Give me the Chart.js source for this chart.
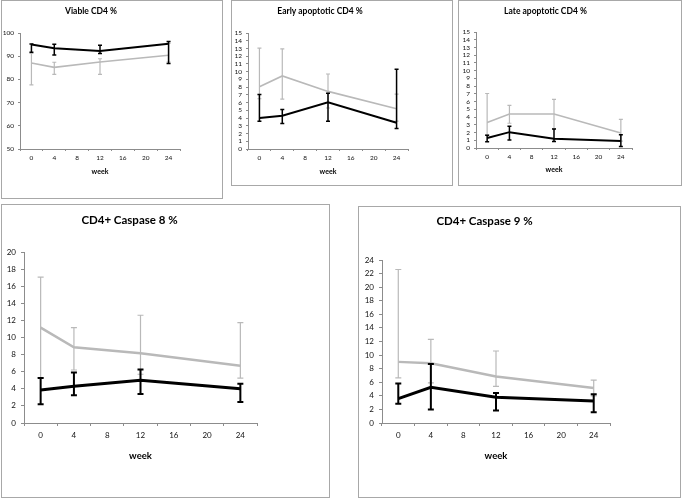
<!DOCTYPE html>
<html>
<head>
<meta charset="utf-8">
<script src="https://cdn.jsdelivr.net/npm/chart.js@4/dist/chart.umd.min.js"></script>
<style>
  body { margin: 0; background: #fff; width: 683px; height: 498px; position: relative; overflow: hidden; }
  .panel { position: absolute; border: 1px solid #a8a8a8; background: #fff; }
  .panel canvas { display: block; }
</style>
</head>
<body>
<div class="panel" id="p1"><canvas id="c1"></canvas></div>
<div class="panel" id="p2"><canvas id="c2"></canvas></div>
<div class="panel" id="p3"><canvas id="c3"></canvas></div>
<div class="panel" id="p4"><canvas id="c4"></canvas></div>
<div class="panel" id="p5"><canvas id="c5"></canvas></div>
<script>
const weekLabels = ['0', '4', '8', '12', '16', '20', '24'];
const weeks = ['0', '4', '12', '24'];

// Viable CD4 %
const viableBlack = [95.0, 93.4, 92.2, 95.4];
const viableBlackHi = [95.3, 95.1, 94.7, 96.3];
const viableBlackLo = [91.7, 90.5, 91.2, 86.9];
const viableGrey = [87.1, 85.2, 87.5, 90.4];
const viableGreyHi = [91.2, 87.4, 88.9, 95.5];
const viableGreyLo = [77.6, 82.2, 82.2, 87.5];

// Early apoptotic CD4 %
const earlyBlack = [4.0, 4.3, 6.05, 3.4];
const earlyBlackHi = [7.05, 5.1, 7.2, 10.3];
const earlyBlackLo = [3.6, 3.3, 3.6, 2.65];
const earlyGrey = [8.05, 9.45, 7.45, 5.2];
const earlyGreyHi = [13.05, 12.95, 9.7, 7.1];
const earlyGreyLo = [6.5, 6.45, 5.3, 3.6];

// Late apoptotic CD4 %
const lateBlack = [1.3, 2.05, 1.2, 0.9];
const lateBlackHi = [1.65, 2.8, 2.45, 1.7];
const lateBlackLo = [0.8, 1.05, 0.85, 0.2];
const lateGrey = [3.3, 4.4, 4.4, 1.95];
const lateGreyHi = [7.05, 5.5, 6.3, 3.7];
const lateGreyLo = [1.7, 3.2, 2.5, 0.9];

// CD4+ Caspase 8 %
const casp8Black = [3.85, 4.3, 5.0, 4.0];
const casp8BlackHi = [5.25, 5.9, 6.25, 4.6];
const casp8BlackLo = [2.2, 3.25, 3.4, 2.45];
const casp8Grey = [11.15, 8.85, 8.15, 6.7];
const casp8GreyHi = [17.05, 11.15, 12.6, 11.75];
const casp8GreyLo = [5.3, 6.2, 5.7, 5.25];

// CD4+ Caspase 9 %
const casp9Black = [3.6, 5.25, 3.8, 3.25];
const casp9BlackHi = [5.8, 8.7, 4.4, 4.25];
const casp9BlackLo = [2.85, 2.0, 1.85, 1.6];
const casp9Grey = [9.0, 8.8, 6.85, 5.15];
const casp9GreyHi = [22.6, 12.3, 10.6, 6.3];
const casp9GreyLo = [6.65, 5.9, 5.4, 4.0];

const FONT = 'Lato, "Open Sans", sans-serif';
const AXIS = '#8c8c8c';
const GREY = '#b9b9b9';

const errorBars = {
  id: 'errorBars',
  afterDatasetDraw(chart, args) {
    const ds = chart.data.datasets[args.index];
    if (!ds.hi) return;
    const ctx = chart.ctx;
    const y = chart.scales.y;
    ctx.save();
    ctx.strokeStyle = ds.borderColor;
    ctx.lineWidth = ds.errWidth;
    args.meta.data.forEach((pt, i) => {
      const top = y.getPixelForValue(ds.hi[i]);
      const bot = y.getPixelForValue(ds.lo[i]);
      const c = ds.cap;
      ctx.beginPath();
      ctx.moveTo(pt.x, top);
      ctx.lineTo(pt.x, bot);
      ctx.moveTo(pt.x - c, top);
      ctx.lineTo(pt.x + c, top);
      ctx.moveTo(pt.x - c, bot);
      ctx.lineTo(pt.x + c, bot);
      ctx.stroke();
    });
    ctx.restore();
  }
};

function series(values, hi, lo, color, width, errWidth, cap) {
  return {
    data: values.map((v, i) => ({ x: weeks[i], y: v })),
    hi: hi,
    lo: lo,
    borderColor: color,
    borderWidth: width,
    errWidth: errWidth,
    cap: cap,
    pointRadius: 0,
    tension: 0,
    fill: false,
    clip: false
  };
}

function makePanel(n, p) {
  const [bl, bt, br, bb] = p.box;
  const W = br - bl - 1, H = bb - bt - 1;
  const ox = bl + 1, oy = bt + 1;
  const div = document.getElementById('p' + n);
  div.style.left = bl + 'px';
  div.style.top = bt + 'px';
  div.style.width = W + 'px';
  div.style.height = H + 'px';
  const canvas = document.getElementById('c' + n);
  canvas.width = W;
  canvas.height = H;

  const titleLh = p.titleSize * 1.2;
  const titleTop = p.titleY - titleLh / 2 - oy;
  const titleBottom = p.area.t - oy - titleTop - titleLh;
  const weekLh = p.weekSize * 1.2;
  const xBottom = p.weekY + weekLh / 2;
  const big = p.titleSize > 9;

  new Chart(canvas.getContext('2d'), {
    type: 'line',
    data: {
      datasets: [
        series(p.black, p.blackHi, p.blackLo, '#000000', big ? 3 : 2, big ? 2 : 1.5, big ? 3 : 2),
        series(p.grey, p.greyHi, p.greyLo, GREY, big ? 2.5 : 1.6, 1.2, big ? 3 : 2)
      ]
    },
    options: {
      responsive: false,
      animation: false,
      events: [],
      layout: {
        padding: { left: 0, top: 0, right: ox + W - p.area.r, bottom: oy + H - xBottom }
      },
      plugins: {
        legend: { display: false },
        tooltip: { enabled: false },
        title: {
          display: true,
          text: p.title,
          color: '#000',
          font: { family: FONT, size: p.titleSize, weight: 'bold' },
          padding: { top: titleTop, bottom: titleBottom }
        }
      },
      scales: {
        x: {
          type: 'category',
          labels: weekLabels,
          offset: true,
          grid: { offset: true, drawOnChartArea: false, color: AXIS, tickLength: p.tick },
          border: { color: AXIS, width: 1 },
          ticks: { color: '#111', font: { family: FONT, size: p.tickSize }, padding: p.xPad, maxRotation: 0, autoSkip: false },
          title: {
            display: true,
            text: 'week',
            color: '#000',
            font: { family: FONT, size: p.weekSize, weight: 'bold' },
            padding: 0
          },
          afterFit: s => { s.height = xBottom - p.area.b; }
        },
        y: {
          min: p.yMin,
          max: p.yMax,
          grid: { drawOnChartArea: false, color: AXIS, tickLength: p.tick },
          border: { color: AXIS, width: 1 },
          ticks: { stepSize: p.yStep, autoSkip: false, color: '#111', font: { family: FONT, size: p.tickSize }, padding: p.yPad },
          afterFit: s => { s.width = p.area.l - ox; }
        }
      }
    },
    plugins: [errorBars]
  });
}

const small = { titleSize: 8.5, tickSize: 6.5, weekSize: 7, tick: 2, xPad: 3, yPad: 4 };
const large = { titleSize: 11.5, tickSize: 8, weekSize: 9.5, tick: 3, xPad: 5, yPad: 5 };

makePanel(1, Object.assign({}, small, {
  box: [1, 0, 222, 198], area: { l: 20, t: 33, r: 180, b: 149 }, titleY: 11, weekY: 172,
  title: 'Viable CD4 %', yMin: 50, yMax: 100, yStep: 10,
  black: viableBlack, blackHi: viableBlackHi, blackLo: viableBlackLo,
  grey: viableGrey, greyHi: viableGreyHi, greyLo: viableGreyLo
}));

makePanel(2, Object.assign({}, small, {
  box: [231, 0, 452, 185], area: { l: 248, t: 33, r: 408, b: 149 }, titleY: 11, weekY: 172,
  title: 'Early apoptotic CD4 %', yMin: 0, yMax: 15, yStep: 1,
  black: earlyBlack, blackHi: earlyBlackHi, blackLo: earlyBlackLo,
  grey: earlyGrey, greyHi: earlyGreyHi, greyLo: earlyGreyLo
}));

makePanel(3, Object.assign({}, small, {
  box: [458, 0, 681, 185], area: { l: 476, t: 32, r: 632, b: 148 }, titleY: 11, weekY: 170,
  title: 'Late apoptotic CD4 %', yMin: 0, yMax: 15, yStep: 1,
  black: lateBlack, blackHi: lateBlackHi, blackLo: lateBlackLo,
  grey: lateGrey, greyHi: lateGreyHi, greyLo: lateGreyLo
}));

makePanel(4, Object.assign({}, large, {
  box: [1, 204, 329, 497], area: { l: 24, t: 252, r: 257, b: 423 }, titleY: 220, weekY: 456,
  title: 'CD4+ Caspase 8 %', yMin: 0, yMax: 20, yStep: 2,
  black: casp8Black, blackHi: casp8BlackHi, blackLo: casp8BlackLo,
  grey: casp8Grey, greyHi: casp8GreyHi, greyLo: casp8GreyLo
}));

makePanel(5, Object.assign({}, large, {
  box: [358, 206, 680, 497], area: { l: 382, t: 260, r: 610, b: 423 }, titleY: 221, weekY: 456,
  title: 'CD4+ Caspase 9 %', yMin: 0, yMax: 24, yStep: 2,
  black: casp9Black, blackHi: casp9BlackHi, blackLo: casp9BlackLo,
  grey: casp9Grey, greyHi: casp9GreyHi, greyLo: casp9GreyLo
}));
</script>
</body>
</html>
